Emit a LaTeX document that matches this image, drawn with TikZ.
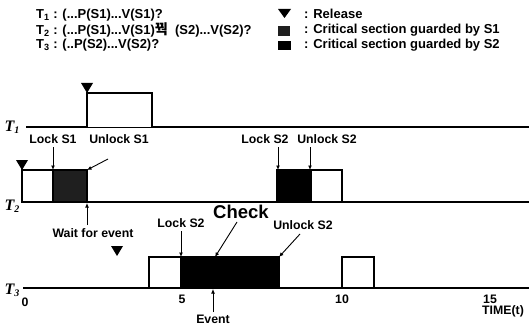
\documentclass[tikz,border=0pt]{standalone}
\usepackage{fontspec}
\setmainfont{Liberation Sans}
\newfontfamily\krfont{Noto Sans CJK KR}
\newfontfamily\tfont{Liberation Serif}
\usetikzlibrary{arrows.meta}
\tikzset{
  lbl/.style={font=\bfseries\fontsize{12.3}{14}\selectfont, inner sep=0pt},
  leg/.style={font=\bfseries\fontsize{13}{14}\selectfont, inner sep=0pt, anchor=west},
  tl/.style={font=\tfont\bfseries\itshape\fontsize{16}{17}\selectfont, inner sep=0pt},
  base/.style={line width=1.3pt},
  wbox/.style={draw, line width=1.1pt, fill=white},
  s1box/.style={draw, line width=1.1pt, fill=black!88},
  s2box/.style={draw, line width=1.1pt, fill=black},
  rel/.style={fill=black},
  arr/.style={line width=0.9pt, -{Latex[length=4.5pt,width=4pt]}},
}
\newcommand{\tsub}[1]{\raisebox{-0.3ex}{\fontsize{10}{10}\selectfont #1}}
\begin{document}
\begin{tikzpicture}[x=1pt,y=-1pt]
\useasboundingbox (0,0) rectangle (529,326);
% legend
\node[leg] (l1) at (36,15) {T\textsubscript{1} : (...P(S1)...V(S1)?};
\node[leg] (l2) at (36,30) {T\textsubscript{2} : (...P(S1)...V(S1){\krfont\fontsize{14}{14}\selectfont 꿕}\ \ (S2)...V(S2)?};
\node[leg] (l3) at (36,45) {T\textsubscript{3} : (..P(S2)...V(S2)?};
\fill[rel] (278,9) -- (291,9) -- (284.5,18) -- cycle;
\fill[black!88] (278,26) rectangle (290,36);
\fill[black] (278,41) rectangle (291,50);
\node[leg] (r1) at (304,14) {: Release};
\node[leg] (r2) at (304,30) {: Critical section guarded by S1};
\node[leg] (r3) at (304,45) {: Critical section guarded by S2};
% task labels
\node[tl] (t1) at (12,127) {T\tsub{1}};
\node[tl] (t2) at (12,206) {T\tsub{2}};
\node[tl] (t3) at (12,290) {T\tsub{3}};
% T1
\coordinate (t1s) at (26,127);
\coordinate (t1e) at (529,127);
\draw[base] (t1s) -- (t1e);
\draw[wbox] (87,127) |- (152,93) -- (152,127);
\fill[rel] (81,83) -- (93,83) -- (87,93) -- cycle;
% T2
\coordinate (t2e) at (529,202);
\draw[base] (22,202) -- (t2e);
\draw[wbox] (22,170) rectangle (53,202);
\draw[s1box] (53,170) rectangle (87,202);
\draw[s2box] (277,170) rectangle (311,202);
\draw[wbox] (311,170) rectangle (342,202);
\fill[rel] (16,160) -- (28,160) -- (22,170) -- cycle;
% T3
\coordinate (t3s) at (23,288);
\coordinate (t3e) at (529,288);
\draw[base] (t3s) -- (t3e);
\draw[wbox] (149,257) rectangle (181,288);
\draw[s2box] (181,257) rectangle (279,288);
\draw[wbox] (342,257) rectangle (374,288);
\fill[rel] (111,246) -- (123,246) -- (117,256) -- cycle;
% labels and arrows T2
\node[lbl] (lk1) at (53,139) {Lock S1};
\node[lbl] (ul1) at (119,139) {Unlock S1};
\node[lbl] (lk2) at (265,139) {Lock S2};
\node[lbl] (ul2) at (327,139) {Unlock S2};
\node[lbl] (wfe) at (93,233) {Wait for event};
\coordinate (a1) at (53,170);
\coordinate (a2) at (87,170);
\coordinate (a3) at (278,170);
\coordinate (a4) at (310,170);
\coordinate (a5) at (87,203);
\draw[arr] (53,147) -- (a1);
\draw[arr] (108,159) -- (a2);
\draw[arr] (278,147) -- (a3);
\draw[arr] (310,147) -- (a4);
\draw[arr] (87,225) -- (a5);
% labels and arrows T3
\node[lbl] (lk3) at (181,223) {Lock S2};
\node[font=\bfseries\fontsize{18.5}{20}\selectfont, inner sep=0pt] (chk) at (241,212) {Check};
\node[lbl] (ul3) at (303,225) {Unlock S2};
\node[lbl] (ev) at (213,319) {Event};
\coordinate (b1) at (181,257);
\coordinate (b2) at (215,257);
\coordinate (b3) at (279,257);
\coordinate (b4) at (213,289);
\draw[arr] (181,231) -- (b1);
\draw[arr] (237,222) -- (b2);
\draw[arr] (300,234) -- (b3);
\draw[arr] (213,312) -- (b4);
% time axis labels
\node[lbl] (x0) at (25,302) {0};
\node[lbl] (x5) at (182,299) {5};
\node[lbl] (x10) at (342,299) {10};
\node[lbl] (x15) at (490,299) {15};
\node[lbl] (tm) at (503,311) {TIME(t)};
\end{tikzpicture}
\end{document}
